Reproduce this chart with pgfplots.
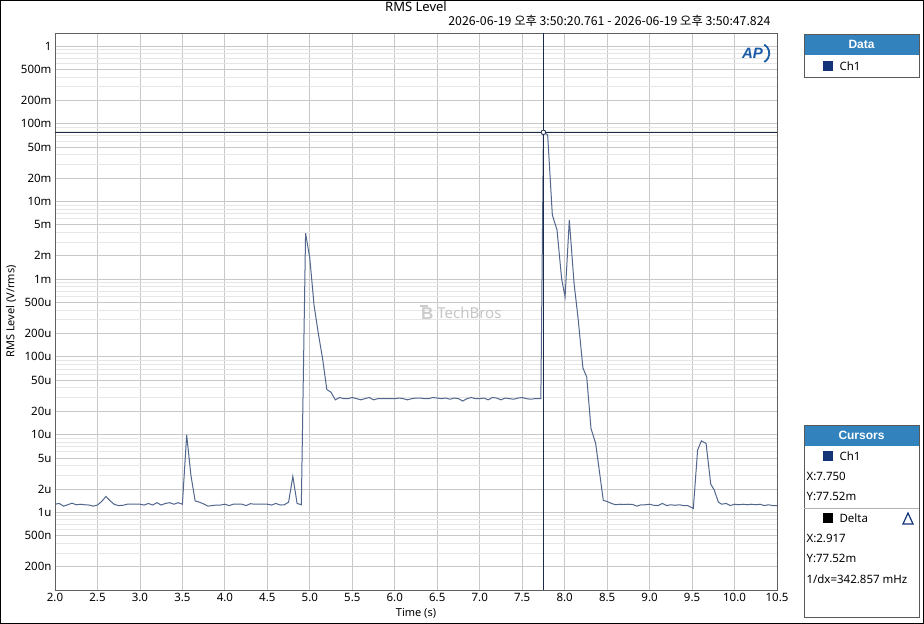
\documentclass[border=0pt]{standalone}
\usepackage{fontspec}
\setmainfont{Noto Sans}
\newfontfamily\krfont{Noto Sans CJK KR}
\newfontfamily\hdrfont{Liberation Sans}
\usepackage{pgfplots}
\pgfplotsset{compat=1.18}
\definecolor{trace}{RGB}{82,102,142}
\definecolor{cursor}{RGB}{28,43,74}
\definecolor{hdr}{RGB}{50,130,190}
\definecolor{chsq}{RGB}{20,52,120}
\definecolor{majgrid}{RGB}{200,200,200}
\definecolor{mingrid}{RGB}{230,230,230}
\definecolor{aplogo}{RGB}{26,92,168}

\begin{document}
\begin{tikzpicture}[x=1pt,y=1pt,font=\fontsize{11.5}{13}\selectfont]
\useasboundingbox (0,0) rectangle (924,624);
\fill[white] (0,0) rectangle (924,624);
\draw[black,line width=1pt] (0.5,0.5) rectangle (923.5,623.5);

% titles
\node[font=\fontsize{13}{15}\selectfont] at (416,617) {RMS Level};
\node[anchor=east,font=\krfont\fontsize{12.3}{14}\selectfont] at (774,603) {2026-06-19 오후 3:50:20.761 - 2026-06-19 오후 3:50:47.824};

\begin{axis}[
  at={(55pt,34pt)}, anchor=south west, scale only axis,
  width=722pt, height=557pt,
  xmin=2, xmax=10.5,
  ymode=log, ymin=1e-7, ymax=1.47,
  xtick={2,2.5,3,3.5,4,4.5,5,5.5,6,6.5,7,7.5,8,8.5,9,9.5,10,10.5},
  xticklabels={2.0,2.5,3.0,3.5,4.0,4.5,5.0,5.5,6.0,6.5,7.0,7.5,8.0,8.5,9.0,9.5,10.0,10.5},
  ytick={2e-7,5e-7,1e-6,2e-6,5e-6,1e-5,2e-5,5e-5,1e-4,2e-4,5e-4,1e-3,2e-3,5e-3,1e-2,2e-2,5e-2,1e-1,2e-1,5e-1,1},
  yticklabels={200n,500n,1u,2u,5u,10u,20u,50u,100u,200u,500u,1m,2m,5m,10m,20m,50m,100m,200m,500m,1},
  minor ytick={3e-7,4e-7,6e-7,7e-7,8e-7,9e-7,
    3e-6,4e-6,6e-6,7e-6,8e-6,9e-6,
    3e-5,4e-5,6e-5,7e-5,8e-5,9e-5,
    3e-4,4e-4,6e-4,7e-4,8e-4,9e-4,
    3e-3,4e-3,6e-3,7e-3,8e-3,9e-3,
    3e-2,4e-2,6e-2,7e-2,8e-2,9e-2,
    3e-1,4e-1,6e-1,7e-1,8e-1,9e-1},
  grid=both,
  major grid style={majgrid,line width=0.8pt},
  minor grid style={mingrid,line width=0.8pt},
  major tick length=0pt, minor tick length=0pt,
  axis line style={gray!75!black,line width=0.8pt},
  tick label style={font=\fontsize{11.5}{13}\selectfont},
  xlabel={Time (s)}, ylabel={RMS Level (V/rms)},
  label style={font=\fontsize{11}{13}\selectfont},
  xlabel style={yshift=1pt},
  ylabel style={yshift=-2pt},
  clip=true,
]
\node[text=gray!45,font=\fontsize{15}{17}\selectfont] at (rel axis cs:0.574,0.497) {TechBros};
\node[text=gray!40,font=\hdrfont\bfseries\fontsize{17}{18}\selectfont] at (rel axis cs:0.5155,0.497) {B};
\draw[gray!40,line width=2pt] ([xshift=-7pt,yshift=7pt]rel axis cs:0.5155,0.497) -- ([xshift=1pt,yshift=7pt]rel axis cs:0.5155,0.497);

\addplot[trace,line width=1pt] coordinates {
(2.00,1.27e-6)(2.05,1.30e-6)(2.10,1.20e-6)(2.15,1.25e-6)(2.20,1.31e-6)(2.25,1.25e-6)
(2.30,1.27e-6)(2.35,1.25e-6)(2.40,1.24e-6)(2.45,1.20e-6)(2.50,1.24e-6)(2.55,1.38e-6)
(2.60,1.60e-6)(2.65,1.40e-6)(2.70,1.26e-6)(2.75,1.22e-6)(2.80,1.23e-6)(2.85,1.27e-6)
(2.90,1.27e-6)(2.95,1.27e-6)(3.00,1.27e-6)(3.05,1.24e-6)(3.10,1.30e-6)(3.15,1.24e-6)
(3.20,1.33e-6)(3.25,1.24e-6)(3.30,1.30e-6)(3.35,1.33e-6)(3.40,1.27e-6)(3.45,1.33e-6)
(3.50,1.27e-6)(3.55,9.9e-6)(3.60,3.0e-6)(3.65,1.40e-6)(3.70,1.35e-6)(3.75,1.28e-6)
(3.80,1.20e-6)(3.85,1.22e-6)(3.90,1.24e-6)(3.95,1.24e-6)(4.00,1.27e-6)(4.05,1.22e-6)
(4.10,1.27e-6)(4.15,1.27e-6)(4.20,1.27e-6)(4.25,1.22e-6)(4.30,1.29e-6)(4.35,1.27e-6)
(4.40,1.27e-6)(4.45,1.27e-6)(4.50,1.27e-6)(4.55,1.24e-6)(4.60,1.30e-6)(4.65,1.24e-6)
(4.70,1.25e-6)(4.75,1.35e-6)(4.80,2.9e-6)(4.85,1.30e-6)(4.90,1.25e-6)(4.95,3.9e-3)
(5.00,1.85e-3)(5.05,4.6e-4)(5.10,2.0e-4)(5.15,9.5e-5)(5.20,3.8e-5)(5.25,3.5e-5)
(5.30,2.8e-5)(5.35,3.0e-5)(5.40,2.9e-5)(5.45,2.9e-5)(5.50,3.0e-5)(5.55,2.9e-5)
(5.60,2.8e-5)(5.65,2.9e-5)(5.70,3.0e-5)(5.75,2.8e-5)(5.80,2.9e-5)(5.85,2.9e-5)
(5.90,2.9e-5)(5.95,2.9e-5)(6.00,2.9e-5)(6.05,2.95e-5)(6.10,2.9e-5)(6.15,2.8e-5)
(6.20,2.9e-5)(6.25,2.95e-5)(6.30,2.95e-5)(6.35,2.9e-5)(6.40,2.9e-5)(6.45,3.0e-5)
(6.50,2.95e-5)(6.55,2.9e-5)(6.60,2.95e-5)(6.65,2.85e-5)(6.70,2.95e-5)(6.75,2.9e-5)
(6.80,2.7e-5)(6.85,2.9e-5)(6.90,3.0e-5)(6.95,2.9e-5)(7.00,2.9e-5)(7.05,2.95e-5)
(7.10,2.8e-5)(7.15,3.0e-5)(7.20,2.95e-5)(7.25,2.8e-5)(7.30,2.95e-5)(7.35,2.9e-5)
(7.40,2.85e-5)(7.45,2.95e-5)(7.50,3.0e-5)(7.55,2.9e-5)(7.60,2.85e-5)(7.65,2.9e-5)
(7.72,2.9e-5)(7.75,7.752e-2)(7.80,7.2e-2)(7.855,6.7e-3)(7.91,4.3e-3)(7.965,1.0e-3)
(8.005,5.9e-4)(8.055,5.8e-3)(8.11,9.0e-4)(8.16,3.0e-4)(8.215,7.2e-5)(8.26,5.5e-5)
(8.31,1.2e-5)(8.365,7.7e-6)(8.455,1.42e-6)(8.50,1.38e-6)
(8.55,1.30e-6)(8.60,1.25e-6)(8.65,1.27e-6)(8.70,1.26e-6)(8.75,1.27e-6)(8.80,1.26e-6)
(8.85,1.20e-6)(8.90,1.25e-6)(8.95,1.25e-6)(9.00,1.27e-6)(9.05,1.23e-6)(9.10,1.22e-6)
(9.15,1.30e-6)(9.20,1.22e-6)(9.25,1.25e-6)(9.30,1.23e-6)(9.35,1.25e-6)(9.40,1.22e-6)
(9.45,1.22e-6)(9.515,1.12e-6)(9.565,6.3e-6)(9.61,8.3e-6)(9.665,7.7e-6)(9.72,2.3e-6)
(9.76,1.95e-6)(9.81,1.35e-6)(9.85,1.27e-6)(9.90,1.30e-6)(9.95,1.22e-6)(10.00,1.27e-6)
(10.05,1.25e-6)(10.10,1.27e-6)(10.15,1.25e-6)(10.20,1.27e-6)(10.25,1.25e-6)(10.30,1.27e-6)
(10.35,1.22e-6)(10.40,1.25e-6)(10.45,1.22e-6)(10.50,1.22e-6)
};

% cursors
\draw[cursor,line width=1pt] (axis cs:7.75,1e-7) -- (axis cs:7.75,1.47);
\draw[cursor,line width=1pt] (axis cs:2,0.07752) -- (axis cs:10.5,0.07752);
\addplot[cursor,only marks,mark=*,mark size=2.3pt,mark options={fill=white,line width=0.8pt}] coordinates {(7.75,0.07752)};

% AP logo
\node[text=aplogo,font=\hdrfont\bfseries\itshape\fontsize{15}{16}\selectfont] at (rel axis cs:0.966,0.963) {AP};
\draw[aplogo,line width=1.8pt] ([xshift=14pt,yshift=9pt]rel axis cs:0.963,0.963) arc (60:-60:10pt);
\end{axis}

% Data panel
\fill[hdr] (804,569) rectangle (919,590);
\draw[gray!70!black,line width=0.8pt] (804,547) rectangle (919,590);
\node[white,font=\hdrfont\bfseries\fontsize{12}{13}\selectfont] at (861.5,579.5) {Data};
\fill[chsq] (823,553) rectangle (833,563);
\node[anchor=west] at (836,558) {Ch1};

% Cursors panel
\fill[hdr] (804,178) rectangle (919,199);
\draw[gray!70!black,line width=0.8pt] (804,7) rectangle (919,199);
\node[white,font=\hdrfont\bfseries\fontsize{12}{13}\selectfont] at (861.5,188.5) {Cursors};
\fill[chsq] (823,163) rectangle (833,173);
\node[anchor=west] at (836,168) {Ch1};
\node[anchor=west] at (803,148) {X:7.750};
\node[anchor=west] at (803,128) {Y:77.52m};
\draw[gray!60,line width=0.8pt] (804,116) -- (919,116);
\fill[black] (823,101) rectangle (833,111);
\node[anchor=west] at (836,106) {Delta};
\draw[chsq,line width=1.2pt] (903,100) -- (913,100) -- (908,111) -- cycle;
\node[anchor=west] at (803,86) {X:2.917};
\node[anchor=west] at (803,66) {Y:77.52m};
\node[anchor=west] at (803,45) {1/dx=342.857 mHz};
\end{tikzpicture}
\end{document}
